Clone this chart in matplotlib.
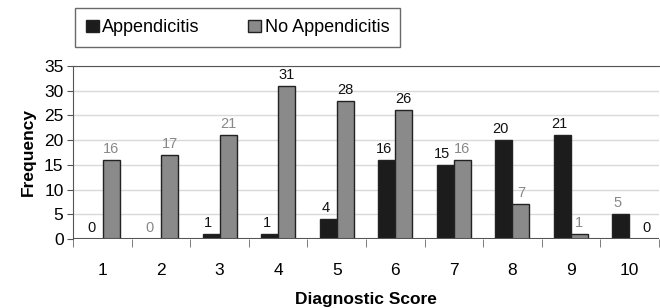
import numpy as np
import matplotlib.pyplot as plt

plt.rcParams['font.family'] = ['Liberation Sans', 'DejaVu Sans']

scores = [1, 2, 3, 4, 5, 6, 7, 8, 9, 10]
appendicitis = [0, 0, 1, 1, 4, 16, 15, 20, 21, 5]
no_appendicitis = [16, 17, 21, 31, 28, 26, 16, 7, 1, 0]

# label colours as in the scan (some labels are printed grey)
app_lbl_col = ['#111111', '#888888', '#111111', '#111111', '#111111',
               '#111111', '#111111', '#111111', '#111111', '#888888']
no_lbl_col = ['#888888', '#888888', '#888888', '#111111', '#111111',
              '#111111', '#888888', '#888888', '#888888', '#111111']

fig = plt.figure(figsize=(6.6, 3.08), dpi=100)
ax = fig.add_axes([0.111, 0.224, 0.887, 0.562])

x = np.arange(len(scores))
w = 0.29
b1 = ax.bar(x - w / 2, appendicitis, w, color='#1c1c1c', edgecolor='#222222',
            linewidth=1.0, label='Appendicitis', zorder=3)
b2 = ax.bar(x + w / 2, no_appendicitis, w, color='#8a8a8a', edgecolor='#222222',
            linewidth=1.0, label='No Appendicitis', zorder=3)

for i in range(len(scores)):
    ax.text(x[i] - w / 2 - 0.05, appendicitis[i] + 0.8, str(appendicitis[i]),
            ha='center', va='bottom', fontsize=10.5, color=app_lbl_col[i])
    ax.text(x[i] + w / 2 + (0.15 if no_appendicitis[i] == 0 else 0),
            no_appendicitis[i] + 0.8, str(no_appendicitis[i]),
            ha='center', va='bottom', fontsize=10.5, color=no_lbl_col[i])

ax.set_xlim(-0.5, len(scores) - 0.5)
ax.set_ylim(0, 35)
ax.set_yticks(range(0, 36, 5))
ax.set_xticks(x)
ax.set_xticklabels([str(s) for s in scores])
ax.set_xticks(np.arange(-0.5, len(scores), 1.0), minor=True)
ax.tick_params(axis='x', which='major', length=0, pad=17, labelsize=12.5)
ax.tick_params(axis='x', which='minor', length=6, color='#666666', direction='out')
ax.tick_params(axis='y', length=4, color='#555555', labelsize=12.5, pad=3)

ax.grid(axis='y', color='#d9d9d9', linewidth=1.0, zorder=0)
for s in ['right', 'bottom']:
    ax.spines[s].set_visible(False)
ax.spines['top'].set_color('#555555')
ax.spines['left'].set_color('#555555')
ax.axhline(0, color='#555555', linewidth=1.5, zorder=4)

ax.set_ylabel('Frequency', fontsize=12.5, fontweight='bold', labelpad=6)
ax.set_xlabel('Diagnostic Score', fontsize=12.5, fontweight='bold', labelpad=10)

fig.legend(handles=[b1, b2], loc='lower left', ncol=2, mode='expand',
           bbox_to_anchor=(0.114, 0.847, 0.492, 0.121), fontsize=13,
           frameon=True, fancybox=False, edgecolor='#444444',
           handlelength=0.7, handleheight=0.7, handletextpad=0.2,
           borderaxespad=0, borderpad=0.6)

fig.savefig('out.png', dpi=100)
